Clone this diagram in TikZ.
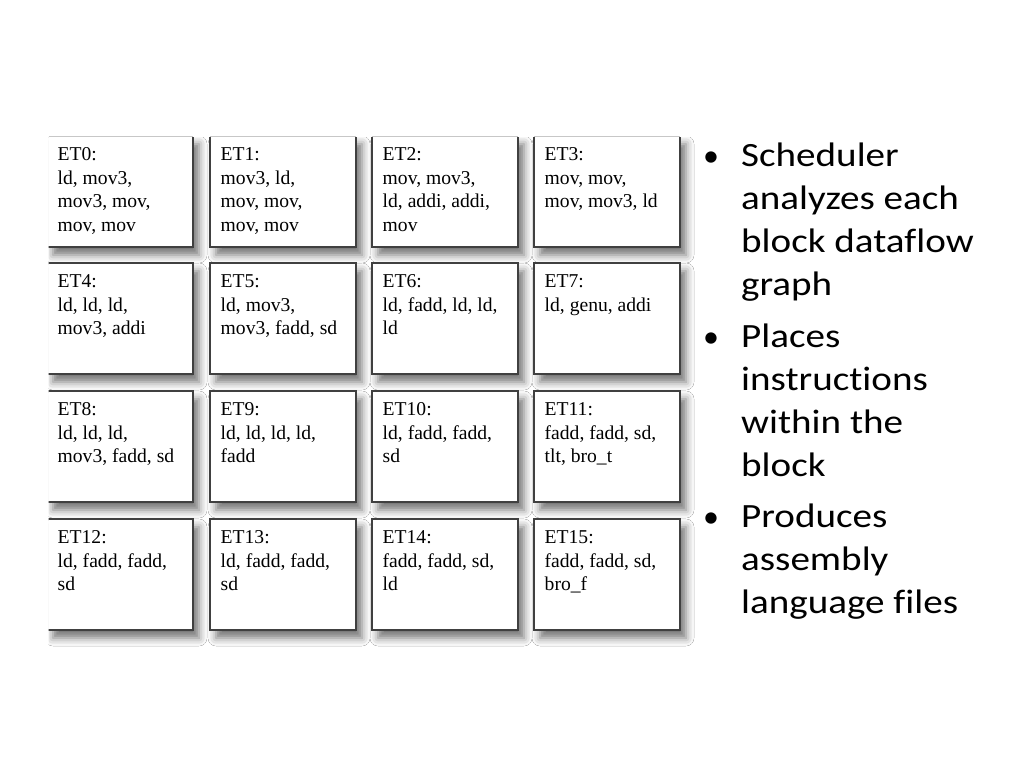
\documentclass[tikz,border=0pt]{standalone}
\usepackage{fontspec}
\setmainfont{Liberation Serif}
\newfontfamily\bulletfont[FakeStretch=1.15,Ligatures=NoCommon]{Carlito}
\newfontfamily\bulletdot{Carlito}
\usetikzlibrary{shadows.blur}
\begin{document}
\begin{tikzpicture}[x=1pt,y=-1pt,
  etbox/.style={draw=black!75, line width=1.2pt, fill=white, minimum width=146pt, minimum height=111pt, inner sep=0pt, outer sep=0pt, anchor=north west,
    blur shadow={shadow xshift=6pt, shadow yshift=-8pt, shadow blur radius=8pt, shadow opacity=55}},
  ettext/.style={anchor=north west, inner sep=0pt, align=left, font=\fontsize{19.6}{23.7}\selectfont},
  bulmark/.style={anchor=base west, inner sep=0pt, font=\bulletdot\fontsize{32}{43}\selectfont},
  bultext/.style={anchor=north west, inner sep=0pt, align=left, font=\bulletfont\fontsize{34}{43}\selectfont},
  toplight/.style={draw=black!22, line width=0.8pt}]
\useasboundingbox[fill=white] (0,0) rectangle (1024,768);

\begin{scope}
\clip (48.6,137) rectangle (1024,768);
% row 0
\node[etbox] (b0)  at (47,136) {};
\node[etbox] (b1)  at (210,136) {};
\node[etbox] (b2)  at (372,136) {};
\node[etbox] (b3)  at (534,136) {};
% row 1
\node[etbox] (b4)  at (47,263) {};
\node[etbox] (b5)  at (210,263) {};
\node[etbox] (b6)  at (372,263) {};
\node[etbox] (b7)  at (534,263) {};
% row 2
\node[etbox] (b8)  at (47,391) {};
\node[etbox] (b9)  at (210,391) {};
\node[etbox] (b10) at (372,391) {};
\node[etbox] (b11) at (534,391) {};
% row 3
\node[etbox] (b12) at (47,519) {};
\node[etbox] (b13) at (210,519) {};
\node[etbox] (b14) at (372,519) {};
\node[etbox] (b15) at (534,519) {};
\end{scope}

\draw[toplight] ([xshift=1.6pt]b0.north west) -- (b0.north east);
\draw[toplight] (b1.north west) -- (b1.north east);
\draw[toplight] (b2.north west) -- (b2.north east);
\draw[toplight] (b3.north west) -- (b3.north east);

\node[ettext] (t0)  at ([shift={(10.5pt,-7.8pt)}]b0.north west)  {\strut ET0:\\ld, mov3,\\mov3, mov,\\mov, mov};
\node[ettext] (t1)  at ([shift={(10.5pt,-7.8pt)}]b1.north west)  {\strut ET1:\\mov3, ld,\\mov, mov,\\mov, mov};
\node[ettext] (t2)  at ([shift={(10.5pt,-7.8pt)}]b2.north west)  {\strut ET2:\\mov, mov3,\\ld, addi, addi,\\mov};
\node[ettext] (t3)  at ([shift={(10.5pt,-7.8pt)}]b3.north west)  {\strut ET3:\\mov, mov,\\mov, mov3, ld};
\node[ettext] (t4)  at ([shift={(10.5pt,-7.8pt)}]b4.north west)  {\strut ET4:\\ld, ld, ld,\\mov3, addi};
\node[ettext] (t5)  at ([shift={(10.5pt,-7.8pt)}]b5.north west)  {\strut ET5:\\ld, mov3,\\mov3, fadd, sd};
\node[ettext] (t6)  at ([shift={(10.5pt,-7.8pt)}]b6.north west)  {\strut ET6:\\ld, fadd, ld, ld,\\ld};
\node[ettext] (t7)  at ([shift={(10.5pt,-7.8pt)}]b7.north west)  {\strut ET7:\\ld, genu, addi};
\node[ettext] (t8)  at ([shift={(10.5pt,-7.8pt)}]b8.north west)  {\strut ET8:\\ld, ld, ld,\\mov3, fadd, sd};
\node[ettext] (t9)  at ([shift={(10.5pt,-7.8pt)}]b9.north west)  {\strut ET9:\\ld, ld, ld, ld,\\fadd};
\node[ettext] (t10) at ([shift={(10.5pt,-7.8pt)}]b10.north west) {\strut ET10:\\ld, fadd, fadd,\\sd};
\node[ettext] (t11) at ([shift={(10.5pt,-7.8pt)}]b11.north west) {\strut ET11:\\fadd, fadd, sd,\\tlt, bro\_t};
\node[ettext] (t12) at ([shift={(10.5pt,-7.8pt)}]b12.north west) {\strut ET12:\\ld, fadd, fadd,\\sd};
\node[ettext] (t13) at ([shift={(10.5pt,-7.8pt)}]b13.north west) {\strut ET13:\\ld, fadd, fadd,\\sd};
\node[ettext] (t14) at ([shift={(10.5pt,-7.8pt)}]b14.north west) {\strut ET14:\\fadd, fadd, sd,\\ld};
\node[ettext] (t15) at ([shift={(10.5pt,-7.8pt)}]b15.north west) {\strut ET15:\\fadd, fadd, sd,\\bro\_f};

% bullets
\node[bulmark] (m1) at (703,166) {•};
\node[bultext] (p1) at (741,135.9) {\strut Scheduler\\analyzes each\\block dataflow\\graph};
\node[bulmark] (m2) at (703,347) {•};
\node[bultext] (p2) at (741,316.9) {\strut Places\\instructions\\within the\\block};
\node[bulmark] (m3) at (703,527) {•};
\node[bultext] (p3) at (741,496.9) {\strut Produces\\assembly\\language files};
\end{tikzpicture}
\end{document}
